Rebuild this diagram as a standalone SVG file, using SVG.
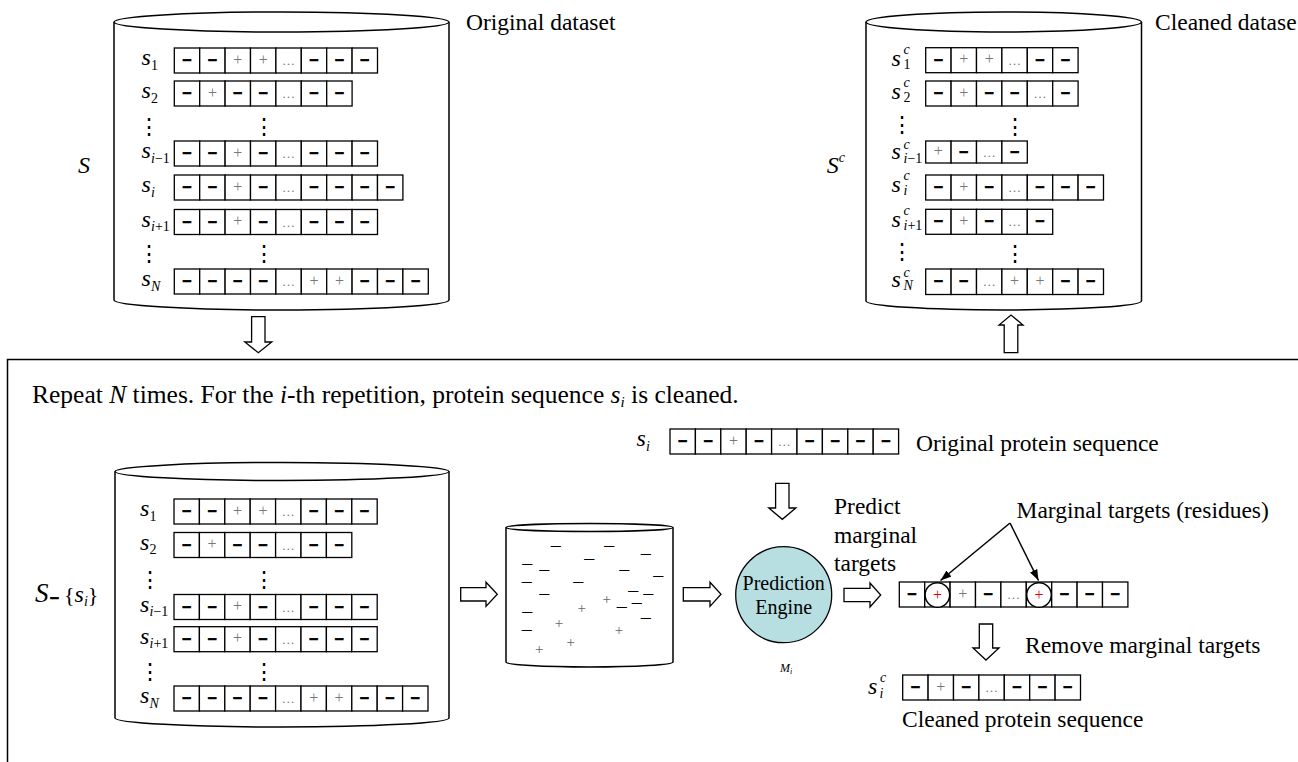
<svg xmlns="http://www.w3.org/2000/svg" width="1298" height="762" viewBox="0 0 1298 762">
<style>
text{font-family:"Liberation Serif","Times New Roman",serif;fill:#000}
.cyl{fill:#fff;stroke:#000;stroke-width:1.5}
.c{fill:#fff;stroke:#000;stroke-width:1.3}
.m{font-family:"Liberation Sans",Arial,sans-serif;font-weight:bold;font-size:16px;text-anchor:middle;stroke:#000;stroke-width:0.7}
.p{font-size:16px;fill:#777;text-anchor:middle}
.d{font-size:13px;fill:#777;text-anchor:middle}
.pr{font-size:16px;fill:#e00000;text-anchor:middle}
.lab{font-style:italic;font-size:24px}
.sub{font-size:14px;font-style:normal}
.subi{font-size:14px;font-style:italic}
.t{font-size:23.5px}
.vd{font-family:"DejaVu Serif",serif;font-size:22px;text-anchor:middle}
.arr{fill:#fff;stroke:#000;stroke-width:1.3}
.cm{font-size:9.5px;text-anchor:middle;stroke:#000;stroke-width:0.6}
.cp{font-size:15px;fill:#666;text-anchor:middle}
.ln{stroke:#000;stroke-width:1.5;fill:none}
</style>
<defs>
<marker id="ah" markerUnits="userSpaceOnUse" markerWidth="12" markerHeight="10" refX="11" refY="4" orient="auto">
<path d="M0,0 L11,4 L0,8 z" fill="#000"/>
</marker>
</defs>

<!-- Top-left cylinder: original dataset -->
<g id="dataset-original">
<path class="cyl" d="M114,22 V300 A167.5,10 0 0 0 449,300 V22"/>
<ellipse class="cyl" cx="281.5" cy="22" rx="167.5" ry="10"/>
<text class="lab" x="78" y="173" font-size="26">S</text>
<text class="t" x="466" y="30">Original dataset</text>
<text class="lab" x="141.5" y="65">s<tspan class="sub" x="151" y="69.5">1</tspan></text>
<text class="lab" x="141.5" y="98">s<tspan class="sub" x="151" y="102.5">2</tspan></text>
<text class="vd" x="149" y="133.5">⋮</text><text class="vd" x="263.5" y="133.5">⋮</text>
<text class="lab" x="141.5" y="158">s<tspan class="subi" x="151" y="162.5">i</tspan><tspan class="sub">−1</tspan></text>
<text class="lab" x="141.5" y="192">s<tspan class="subi" x="151" y="196.5">i</tspan></text>
<text class="lab" x="141.5" y="226.5">s<tspan class="subi" x="151" y="231">i</tspan><tspan class="sub">+1</tspan></text>
<text class="vd" x="149" y="261">⋮</text><text class="vd" x="263.5" y="261">⋮</text>
<text class="lab" x="141.5" y="286">s<tspan class="subi" x="151" y="290.5">N</tspan></text>
<g transform="translate(174.3,48)">
<rect class="c" x="0" width="25.4" height="25"/><rect class="c" x="25.4" width="25.4" height="25"/><rect class="c" x="50.8" width="25.4" height="25"/><rect class="c" x="76.2" width="25.4" height="25"/><rect class="c" x="101.6" width="25.4" height="25"/><rect class="c" x="127" width="25.4" height="25"/><rect class="c" x="152.4" width="25.4" height="25"/><rect class="c" x="177.8" width="25.4" height="25"/>
<text class="m" x="12.7" y="17">–</text><text class="m" x="38.1" y="17">–</text><text class="p" x="63.5" y="16.5">+</text><text class="p" x="88.9" y="16.5">+</text><text class="d" x="114.3" y="17">…</text><text class="m" x="139.7" y="17">–</text><text class="m" x="165.1" y="17">–</text><text class="m" x="190.5" y="17">–</text>
</g>
<g transform="translate(174.3,81)">
<rect class="c" x="0" width="25.4" height="25"/><rect class="c" x="25.4" width="25.4" height="25"/><rect class="c" x="50.8" width="25.4" height="25"/><rect class="c" x="76.2" width="25.4" height="25"/><rect class="c" x="101.6" width="25.4" height="25"/><rect class="c" x="127" width="25.4" height="25"/><rect class="c" x="152.4" width="25.4" height="25"/>
<text class="m" x="12.7" y="17">–</text><text class="p" x="38.1" y="16.5">+</text><text class="m" x="63.5" y="17">–</text><text class="m" x="88.9" y="17">–</text><text class="d" x="114.3" y="17">…</text><text class="m" x="139.7" y="17">–</text><text class="m" x="165.1" y="17">–</text>
</g>
<g transform="translate(174.3,141)">
<rect class="c" x="0" width="25.4" height="25"/><rect class="c" x="25.4" width="25.4" height="25"/><rect class="c" x="50.8" width="25.4" height="25"/><rect class="c" x="76.2" width="25.4" height="25"/><rect class="c" x="101.6" width="25.4" height="25"/><rect class="c" x="127" width="25.4" height="25"/><rect class="c" x="152.4" width="25.4" height="25"/><rect class="c" x="177.8" width="25.4" height="25"/>
<text class="m" x="12.7" y="17">–</text><text class="m" x="38.1" y="17">–</text><text class="p" x="63.5" y="16.5">+</text><text class="m" x="88.9" y="17">–</text><text class="d" x="114.3" y="17">…</text><text class="m" x="139.7" y="17">–</text><text class="m" x="165.1" y="17">–</text><text class="m" x="190.5" y="17">–</text>
</g>
<g transform="translate(174.3,175)">
<rect class="c" x="0" width="25.4" height="25"/><rect class="c" x="25.4" width="25.4" height="25"/><rect class="c" x="50.8" width="25.4" height="25"/><rect class="c" x="76.2" width="25.4" height="25"/><rect class="c" x="101.6" width="25.4" height="25"/><rect class="c" x="127" width="25.4" height="25"/><rect class="c" x="152.4" width="25.4" height="25"/><rect class="c" x="177.8" width="25.4" height="25"/><rect class="c" x="203.2" width="25.4" height="25"/>
<text class="m" x="12.7" y="17">–</text><text class="m" x="38.1" y="17">–</text><text class="p" x="63.5" y="16.5">+</text><text class="m" x="88.9" y="17">–</text><text class="d" x="114.3" y="17">…</text><text class="m" x="139.7" y="17">–</text><text class="m" x="165.1" y="17">–</text><text class="m" x="190.5" y="17">–</text><text class="m" x="215.9" y="17">–</text>
</g>
<g transform="translate(174.3,209.5)">
<rect class="c" x="0" width="25.4" height="25"/><rect class="c" x="25.4" width="25.4" height="25"/><rect class="c" x="50.8" width="25.4" height="25"/><rect class="c" x="76.2" width="25.4" height="25"/><rect class="c" x="101.6" width="25.4" height="25"/><rect class="c" x="127" width="25.4" height="25"/><rect class="c" x="152.4" width="25.4" height="25"/><rect class="c" x="177.8" width="25.4" height="25"/>
<text class="m" x="12.7" y="17">–</text><text class="m" x="38.1" y="17">–</text><text class="p" x="63.5" y="16.5">+</text><text class="m" x="88.9" y="17">–</text><text class="d" x="114.3" y="17">…</text><text class="m" x="139.7" y="17">–</text><text class="m" x="165.1" y="17">–</text><text class="m" x="190.5" y="17">–</text>
</g>
<g transform="translate(174.3,269)">
<rect class="c" x="0" width="25.4" height="25"/><rect class="c" x="25.4" width="25.4" height="25"/><rect class="c" x="50.8" width="25.4" height="25"/><rect class="c" x="76.2" width="25.4" height="25"/><rect class="c" x="101.6" width="25.4" height="25"/><rect class="c" x="127" width="25.4" height="25"/><rect class="c" x="152.4" width="25.4" height="25"/><rect class="c" x="177.8" width="25.4" height="25"/><rect class="c" x="203.2" width="25.4" height="25"/><rect class="c" x="228.6" width="25.4" height="25"/>
<text class="m" x="12.7" y="17">–</text><text class="m" x="38.1" y="17">–</text><text class="m" x="63.5" y="17">–</text><text class="m" x="88.9" y="17">–</text><text class="d" x="114.3" y="17">…</text><text class="p" x="139.7" y="16.5">+</text><text class="p" x="165.1" y="16.5">+</text><text class="m" x="190.5" y="17">–</text><text class="m" x="215.9" y="17">–</text><text class="m" x="241.3" y="17">–</text>
</g>
</g>

<!-- Top-right cylinder: cleaned dataset -->
<g id="dataset-cleaned">
<path class="cyl" d="M866,22 V301 A137.75,9 0 0 0 1141.5,301 V22"/>
<ellipse class="cyl" cx="1003.75" cy="22" rx="137.75" ry="10"/>
<text class="lab" x="826.7" y="173" font-size="26">S<tspan class="subi" font-size="16" dy="-11">c</tspan></text>
<text class="t" x="1155" y="30">Cleaned datase</text>
<text class="lab" x="891.5" y="66">s<tspan class="subi" x="903.5" y="54">c</tspan><tspan class="sub" x="903.5" y="69">1</tspan></text>
<text class="lab" x="891.5" y="99">s<tspan class="subi" x="903.5" y="87">c</tspan><tspan class="sub" x="903.5" y="102">2</tspan></text>
<text class="vd" x="901.7" y="131.5">⋮</text><text class="vd" x="1015" y="133.5">⋮</text>
<text class="lab" x="891.5" y="159">s<tspan class="subi" x="903.5" y="149">c</tspan><tspan class="subi" x="903.5" y="163">i</tspan><tspan class="sub">−1</tspan></text>
<text class="lab" x="891.5" y="192">s<tspan class="subi" x="903.5" y="180">c</tspan><tspan class="subi" x="903.5" y="195">i</tspan></text>
<text class="lab" x="891.5" y="227">s<tspan class="subi" x="903.5" y="215">c</tspan><tspan class="subi" x="903.5" y="230">i</tspan><tspan class="sub">+1</tspan></text>
<text class="vd" x="901.7" y="259">⋮</text><text class="vd" x="1015" y="261">⋮</text>
<text class="lab" x="891.5" y="287">s<tspan class="subi" x="903.5" y="277">c</tspan><tspan class="subi" x="903.5" y="290">N</tspan></text>
<g transform="translate(925.7,47.7)">
<rect class="c" x="0" width="25.4" height="25"/><rect class="c" x="25.4" width="25.4" height="25"/><rect class="c" x="50.8" width="25.4" height="25"/><rect class="c" x="76.2" width="25.4" height="25"/><rect class="c" x="101.6" width="25.4" height="25"/><rect class="c" x="127" width="25.4" height="25"/>
<text class="m" x="12.7" y="17">–</text><text class="p" x="38.1" y="16.5">+</text><text class="p" x="63.5" y="16.5">+</text><text class="d" x="88.9" y="17">…</text><text class="m" x="114.3" y="17">–</text><text class="m" x="139.7" y="17">–</text>
</g>
<g transform="translate(925.7,81)">
<rect class="c" x="0" width="25.4" height="25"/><rect class="c" x="25.4" width="25.4" height="25"/><rect class="c" x="50.8" width="25.4" height="25"/><rect class="c" x="76.2" width="25.4" height="25"/><rect class="c" x="101.6" width="25.4" height="25"/><rect class="c" x="127" width="25.4" height="25"/>
<text class="m" x="12.7" y="17">–</text><text class="p" x="38.1" y="16.5">+</text><text class="m" x="63.5" y="17">–</text><text class="m" x="88.9" y="17">–</text><text class="d" x="114.3" y="17">…</text><text class="m" x="139.7" y="17">–</text>
</g>
<g transform="translate(925.7,141)">
<rect class="c" x="0" width="25.4" height="22"/><rect class="c" x="25.4" width="25.4" height="22"/><rect class="c" x="50.8" width="25.4" height="22"/><rect class="c" x="76.2" width="25.4" height="22"/>
<text class="p" x="12.7" y="15">+</text><text class="m" x="38.1" y="15.5">–</text><text class="d" x="63.5" y="15.5">…</text><text class="m" x="88.9" y="15.5">–</text>
</g>
<g transform="translate(925.7,175)">
<rect class="c" x="0" width="25.4" height="25"/><rect class="c" x="25.4" width="25.4" height="25"/><rect class="c" x="50.8" width="25.4" height="25"/><rect class="c" x="76.2" width="25.4" height="25"/><rect class="c" x="101.6" width="25.4" height="25"/><rect class="c" x="127" width="25.4" height="25"/><rect class="c" x="152.4" width="25.4" height="25"/>
<text class="m" x="12.7" y="17">–</text><text class="p" x="38.1" y="16.5">+</text><text class="m" x="63.5" y="17">–</text><text class="d" x="88.9" y="17">…</text><text class="m" x="114.3" y="17">–</text><text class="m" x="139.7" y="17">–</text><text class="m" x="165.1" y="17">–</text>
</g>
<g transform="translate(925.7,209.3)">
<rect class="c" x="0" width="25.4" height="25"/><rect class="c" x="25.4" width="25.4" height="25"/><rect class="c" x="50.8" width="25.4" height="25"/><rect class="c" x="76.2" width="25.4" height="25"/><rect class="c" x="101.6" width="25.4" height="25"/>
<text class="m" x="12.7" y="17">–</text><text class="p" x="38.1" y="16.5">+</text><text class="m" x="63.5" y="17">–</text><text class="d" x="88.9" y="17">…</text><text class="m" x="114.3" y="17">–</text>
</g>
<g transform="translate(925.7,269)">
<rect class="c" x="0" width="25.4" height="25.5"/><rect class="c" x="25.4" width="25.4" height="25.5"/><rect class="c" x="50.8" width="25.4" height="25.5"/><rect class="c" x="76.2" width="25.4" height="25.5"/><rect class="c" x="101.6" width="25.4" height="25.5"/><rect class="c" x="127" width="25.4" height="25.5"/><rect class="c" x="152.4" width="25.4" height="25.5"/>
<text class="m" x="12.7" y="17">–</text><text class="m" x="38.1" y="17">–</text><text class="d" x="63.5" y="17">…</text><text class="p" x="88.9" y="16.5">+</text><text class="p" x="114.3" y="16.5">+</text><text class="m" x="139.7" y="17">–</text><text class="m" x="165.1" y="17">–</text>
</g>
</g>

<!-- Repetition frame -->
<g id="repeat-frame">
<path class="ln" d="M1300,359.5 H7.5 V764"/>
<text x="32" y="403" font-size="25.5">Repeat <tspan font-style="italic">N</tspan> times. For the <tspan font-style="italic">i</tspan>-th repetition, protein sequence <tspan font-style="italic">s</tspan><tspan font-style="italic" font-size="15" dy="4">i</tspan><tspan dy="-4"> is cleaned.</tspan></text>
</g>

<!-- Bottom-left cylinder: S - {s_i} -->
<g id="dataset-minus-si">
<path class="cyl" d="M115,471.5 V718 A167,9 0 0 0 449,718 V471.5"/>
<ellipse class="cyl" cx="282" cy="471.5" rx="167" ry="9"/>
<text x="35" y="602" font-size="24"><tspan font-style="italic" font-size="27">S</tspan><tspan x="50" dy="1" font-family="Liberation Sans, Arial, sans-serif" font-weight="bold" font-size="16" stroke="#000" stroke-width="0.7">–</tspan><tspan x="64" dy="-1" font-size="22">{</tspan><tspan font-style="italic">s</tspan><tspan dy="4" font-style="italic" font-size="14">i</tspan><tspan dy="-4" font-size="22">}</tspan></text>
<text class="lab" x="140" y="516">s<tspan class="sub" x="149.5" y="520.5">1</tspan></text>
<text class="lab" x="140" y="549.5">s<tspan class="sub" x="149.5" y="554">2</tspan></text>
<text class="vd" x="150" y="587">⋮</text><text class="vd" x="263.5" y="587">⋮</text>
<text class="lab" x="140" y="611.5">s<tspan class="subi" x="149.5" y="616">i</tspan><tspan class="sub">−1</tspan></text>
<text class="lab" x="140" y="643.5">s<tspan class="subi" x="149.5" y="648">i</tspan><tspan class="sub">+1</tspan></text>
<text class="vd" x="150" y="679">⋮</text><text class="vd" x="263.5" y="679">⋮</text>
<text class="lab" x="140" y="703">s<tspan class="subi" x="149.5" y="707.5">N</tspan></text>
<g transform="translate(174,499)">
<rect class="c" x="0" width="25.4" height="25"/><rect class="c" x="25.4" width="25.4" height="25"/><rect class="c" x="50.8" width="25.4" height="25"/><rect class="c" x="76.2" width="25.4" height="25"/><rect class="c" x="101.6" width="25.4" height="25"/><rect class="c" x="127" width="25.4" height="25"/><rect class="c" x="152.4" width="25.4" height="25"/><rect class="c" x="177.8" width="25.4" height="25"/>
<text class="m" x="12.7" y="17">–</text><text class="m" x="38.1" y="17">–</text><text class="p" x="63.5" y="16.5">+</text><text class="p" x="88.9" y="16.5">+</text><text class="d" x="114.3" y="17">…</text><text class="m" x="139.7" y="17">–</text><text class="m" x="165.1" y="17">–</text><text class="m" x="190.5" y="17">–</text>
</g>
<g transform="translate(174,532.5)">
<rect class="c" x="0" width="25.4" height="25"/><rect class="c" x="25.4" width="25.4" height="25"/><rect class="c" x="50.8" width="25.4" height="25"/><rect class="c" x="76.2" width="25.4" height="25"/><rect class="c" x="101.6" width="25.4" height="25"/><rect class="c" x="127" width="25.4" height="25"/><rect class="c" x="152.4" width="25.4" height="25"/>
<text class="m" x="12.7" y="17">–</text><text class="p" x="38.1" y="16.5">+</text><text class="m" x="63.5" y="17">–</text><text class="m" x="88.9" y="17">–</text><text class="d" x="114.3" y="17">…</text><text class="m" x="139.7" y="17">–</text><text class="m" x="165.1" y="17">–</text>
</g>
<g transform="translate(174,594.5)">
<rect class="c" x="0" width="25.4" height="25"/><rect class="c" x="25.4" width="25.4" height="25"/><rect class="c" x="50.8" width="25.4" height="25"/><rect class="c" x="76.2" width="25.4" height="25"/><rect class="c" x="101.6" width="25.4" height="25"/><rect class="c" x="127" width="25.4" height="25"/><rect class="c" x="152.4" width="25.4" height="25"/><rect class="c" x="177.8" width="25.4" height="25"/>
<text class="m" x="12.7" y="17">–</text><text class="m" x="38.1" y="17">–</text><text class="p" x="63.5" y="16.5">+</text><text class="m" x="88.9" y="17">–</text><text class="d" x="114.3" y="17">…</text><text class="m" x="139.7" y="17">–</text><text class="m" x="165.1" y="17">–</text><text class="m" x="190.5" y="17">–</text>
</g>
<g transform="translate(174,626.7)">
<rect class="c" x="0" width="25.4" height="25"/><rect class="c" x="25.4" width="25.4" height="25"/><rect class="c" x="50.8" width="25.4" height="25"/><rect class="c" x="76.2" width="25.4" height="25"/><rect class="c" x="101.6" width="25.4" height="25"/><rect class="c" x="127" width="25.4" height="25"/><rect class="c" x="152.4" width="25.4" height="25"/><rect class="c" x="177.8" width="25.4" height="25"/>
<text class="m" x="12.7" y="17">–</text><text class="m" x="38.1" y="17">–</text><text class="p" x="63.5" y="16.5">+</text><text class="m" x="88.9" y="17">–</text><text class="d" x="114.3" y="17">…</text><text class="m" x="139.7" y="17">–</text><text class="m" x="165.1" y="17">–</text><text class="m" x="190.5" y="17">–</text>
</g>
<g transform="translate(174,686)">
<rect class="c" x="0" width="25.4" height="25"/><rect class="c" x="25.4" width="25.4" height="25"/><rect class="c" x="50.8" width="25.4" height="25"/><rect class="c" x="76.2" width="25.4" height="25"/><rect class="c" x="101.6" width="25.4" height="25"/><rect class="c" x="127" width="25.4" height="25"/><rect class="c" x="152.4" width="25.4" height="25"/><rect class="c" x="177.8" width="25.4" height="25"/><rect class="c" x="203.2" width="25.4" height="25"/><rect class="c" x="228.6" width="25.4" height="25"/>
<text class="m" x="12.7" y="17">–</text><text class="m" x="38.1" y="17">–</text><text class="m" x="63.5" y="17">–</text><text class="m" x="88.9" y="17">–</text><text class="d" x="114.3" y="17">…</text><text class="p" x="139.7" y="16.5">+</text><text class="p" x="165.1" y="16.5">+</text><text class="m" x="190.5" y="17">–</text><text class="m" x="215.9" y="17">–</text><text class="m" x="241.3" y="17">–</text>
</g>
</g>

<!-- Middle cylinder: residue pool -->
<g id="residue-pool">
<path class="cyl" d="M506,527.5 V662 A83.5,5 0 0 0 673,662 V527.5"/>
<ellipse class="cyl" cx="589.5" cy="527.5" rx="83.5" ry="4"/>
<text class="cm" x="555.7" y="549.2">—</text><text class="cm" x="609.3" y="549.2">—</text><text class="cm" x="645.7" y="556.5">—</text><text class="cm" x="589.3" y="561.8">—</text>
<text class="cm" x="527.3" y="566.8">—</text><text class="cm" x="544.3" y="573.2">—</text><text class="cm" x="624.3" y="572.5">—</text><text class="cm" x="658.3" y="579.2">—</text>
<text class="cm" x="526.7" y="585.2">—</text><text class="cm" x="578.3" y="584.8">—</text><text class="cm" x="633.3" y="593.8">—</text><text class="cm" x="648.3" y="596.5">—</text>
<text class="cm" x="544.3" y="597.2">—</text><text class="cm" x="636.7" y="605.8">—</text><text class="cm" x="621.7" y="609.8">—</text><text class="cm" x="527.3" y="615.2">—</text>
<text class="cm" x="645.7" y="620.5">—</text><text class="cm" x="526.7" y="632.5">—</text>
<text class="cp" x="606.7" y="604">+</text><text class="cp" x="581.7" y="613.4">+</text><text class="cp" x="559" y="628">+</text><text class="cp" x="619" y="635.4">+</text><text class="cp" x="570.7" y="647.4">+</text><text class="cp" x="539.3" y="654">+</text>
</g>

<!-- Prediction engine -->
<g id="prediction-engine">
<circle cx="783.7" cy="594.7" r="48" fill="#b7dee1" stroke="#000" stroke-width="1.3"/>
<text x="783.7" y="590" font-size="20" text-anchor="middle">Prediction</text>
<text x="783.7" y="614.3" font-size="20" text-anchor="middle">Engine</text>
<text x="780" y="672" font-size="12" font-style="italic">M<tspan font-size="8" dy="2">i</tspan></text>
</g>

<!-- Original protein sequence s_i -->
<g id="seq-original">
<text class="lab" x="636.5" y="446">s<tspan class="subi" x="646" y="450.5">i</tspan></text>
<g transform="translate(670,429)">
<rect class="c" x="0" width="25.4" height="25"/><rect class="c" x="25.4" width="25.4" height="25"/><rect class="c" x="50.8" width="25.4" height="25"/><rect class="c" x="76.2" width="25.4" height="25"/><rect class="c" x="101.6" width="25.4" height="25"/><rect class="c" x="127" width="25.4" height="25"/><rect class="c" x="152.4" width="25.4" height="25"/><rect class="c" x="177.8" width="25.4" height="25"/><rect class="c" x="203.2" width="25.4" height="25"/>
<text class="m" x="12.7" y="17">–</text><text class="m" x="38.1" y="17">–</text><text class="p" x="63.5" y="16.5">+</text><text class="m" x="88.9" y="17">–</text><text class="d" x="114.3" y="17">…</text><text class="m" x="139.7" y="17">–</text><text class="m" x="165.1" y="17">–</text><text class="m" x="190.5" y="17">–</text><text class="m" x="215.9" y="17">–</text>
</g>
<text class="t" x="916" y="451">Original protein sequence</text>
</g>

<!-- Sequence with marginal targets marked -->
<g id="seq-marked">
<text class="t" x="834" y="514">Predict</text>
<text class="t" x="834" y="542.5">marginal</text>
<text class="t" x="834" y="571">targets</text>
<text class="t" x="1016.5" y="518">Marginal targets (residues)</text>
<g transform="translate(899.3,582)">
<rect class="c" x="0" width="25.4" height="25"/><rect class="c" x="25.4" width="25.4" height="25"/><rect class="c" x="50.8" width="25.4" height="25"/><rect class="c" x="76.2" width="25.4" height="25"/><rect class="c" x="101.6" width="25.4" height="25"/><rect class="c" x="127" width="25.4" height="25"/><rect class="c" x="152.4" width="25.4" height="25"/><rect class="c" x="177.8" width="25.4" height="25"/><rect class="c" x="203.2" width="25.4" height="25"/>
<circle cx="38.1" cy="13" r="12.3" fill="#fff" stroke="#000" stroke-width="1.5"/>
<circle cx="139.7" cy="13" r="12.3" fill="#fff" stroke="#000" stroke-width="1.5"/>
<text class="m" x="12.7" y="17">–</text><text class="pr" x="38.1" y="17.5">+</text><text class="p" x="63.5" y="16.5">+</text><text class="m" x="88.9" y="17">–</text><text class="d" x="114.3" y="17">…</text><text class="pr" x="139.7" y="17.5">+</text><text class="m" x="165.1" y="17">–</text><text class="m" x="190.5" y="17">–</text><text class="m" x="215.9" y="17">–</text>
</g>
<text class="t" x="1025" y="653">Remove marginal targets</text>
</g>

<!-- Cleaned protein sequence -->
<g id="seq-cleaned">
<text class="lab" x="868" y="694">s<tspan class="subi" x="880" y="682">c</tspan><tspan class="subi" x="879.5" y="698">i</tspan></text>
<g transform="translate(902.7,675)">
<rect class="c" x="0" width="25.4" height="25"/><rect class="c" x="25.4" width="25.4" height="25"/><rect class="c" x="50.8" width="25.4" height="25"/><rect class="c" x="76.2" width="25.4" height="25"/><rect class="c" x="101.6" width="25.4" height="25"/><rect class="c" x="127" width="25.4" height="25"/><rect class="c" x="152.4" width="25.4" height="25"/>
<text class="m" x="12.7" y="17">–</text><text class="p" x="38.1" y="16.5">+</text><text class="m" x="63.5" y="17">–</text><text class="d" x="88.9" y="17">…</text><text class="m" x="114.3" y="17">–</text><text class="m" x="139.7" y="17">–</text><text class="m" x="165.1" y="17">–</text>
</g>
<text class="t" x="902" y="727">Cleaned protein sequence</text>
</g>

<!-- Connectors -->
<g id="connectors">
<polygon class="arr" points="251.6,316.7 265,316.7 265,342 271.8,342 258.3,352.7 244.8,342 251.6,342"/>
<polygon class="arr" points="1004.2,352.7 1017.8,352.7 1017.8,325 1023,325 1011,315 999,325 1004.2,325"/>
<polygon class="arr" points="460.7,587.6 486,587.6 486,582.2 497.3,594.3 486,606.4 486,601 460.7,601"/>
<polygon class="arr" points="683.3,587.6 710,587.6 710,582.2 721,594.3 710,606.4 710,601 683.3,601"/>
<polygon class="arr" points="775.6,483.3 789,483.3 789,508 795.8,508 782.3,519.3 768.8,508 775.6,508"/>
<polygon class="arr" points="844,588.3 870,588.3 870,583 880.7,595 870,607 870,601.7 844,601.7"/>
<polygon class="arr" points="979.3,624 992.7,624 992.7,648 999,648 986,660 973,648 979.3,648"/>
<line class="ln" x1="1010" y1="523" x2="940.5" y2="580.5" marker-end="url(#ah)"/>
<line class="ln" x1="1010" y1="523" x2="1038.5" y2="580.5" marker-end="url(#ah)"/>
</g>
</svg>
